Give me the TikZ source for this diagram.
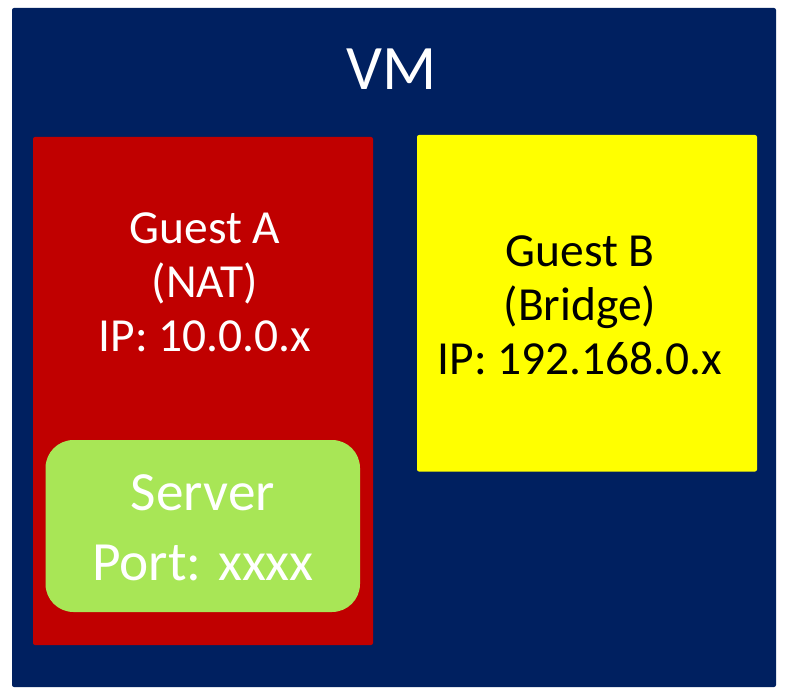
\documentclass[tikz,border=0pt]{standalone}
\usepackage{fontspec}
\setmainfont{Carlito}
\usepackage{tikz}
\usetikzlibrary{positioning,fit}
\definecolor{vmnavy}{RGB}{0,32,96}
\definecolor{guestred}{RGB}{192,0,0}
\definecolor{guestyellow}{RGB}{255,255,0}
\definecolor{servergreen}{RGB}{168,230,86}

\begin{document}
\begin{tikzpicture}[x=0.75pt,y=-0.75pt,
 box/.style={inner sep=0pt,outer sep=0pt,rounded corners=1.5pt},
 guesttext/.style={align=center,inner sep=0pt,font=\fontsize{35.6}{40.5}\selectfont}]
\useasboundingbox (0,0) rectangle (796,688);
% outer machine
\node[box,fill=vmnavy,fit={(12,8) (776,687)}] (vm) {};
\node[white,inner sep=0pt,font=\fontsize{47.5}{50}\selectfont] (vmlabel) at (392,69) {VM};
% guests
\node[box,fill=guestred,fit={(33,137) (373,645)}] (guestA) {};
\node[guesttext,white] (guestAlabel) at (205,282) {Guest A\\(NAT)\\IP: 10.0.0.x};
\node[box,fill=guestyellow,fit={(417,135) (757,471.5)}] (guestB) {};
\node[guesttext,black] (guestBlabel) at (580,305.5) {Guest B\\(Bridge)\\IP: 192.168.0.x};
% server inside guest A
\node[box,fill=servergreen,rounded corners=21pt,fit={(45.5,440) (360,612)}] (server) {};
\node[align=center,inner sep=0pt,white,font=\fontsize{41.5}{52.5}\selectfont]
 (serverlabel) at (203,527.5) {Server\\Port: xxxx};
\end{tikzpicture}
\end{document}
